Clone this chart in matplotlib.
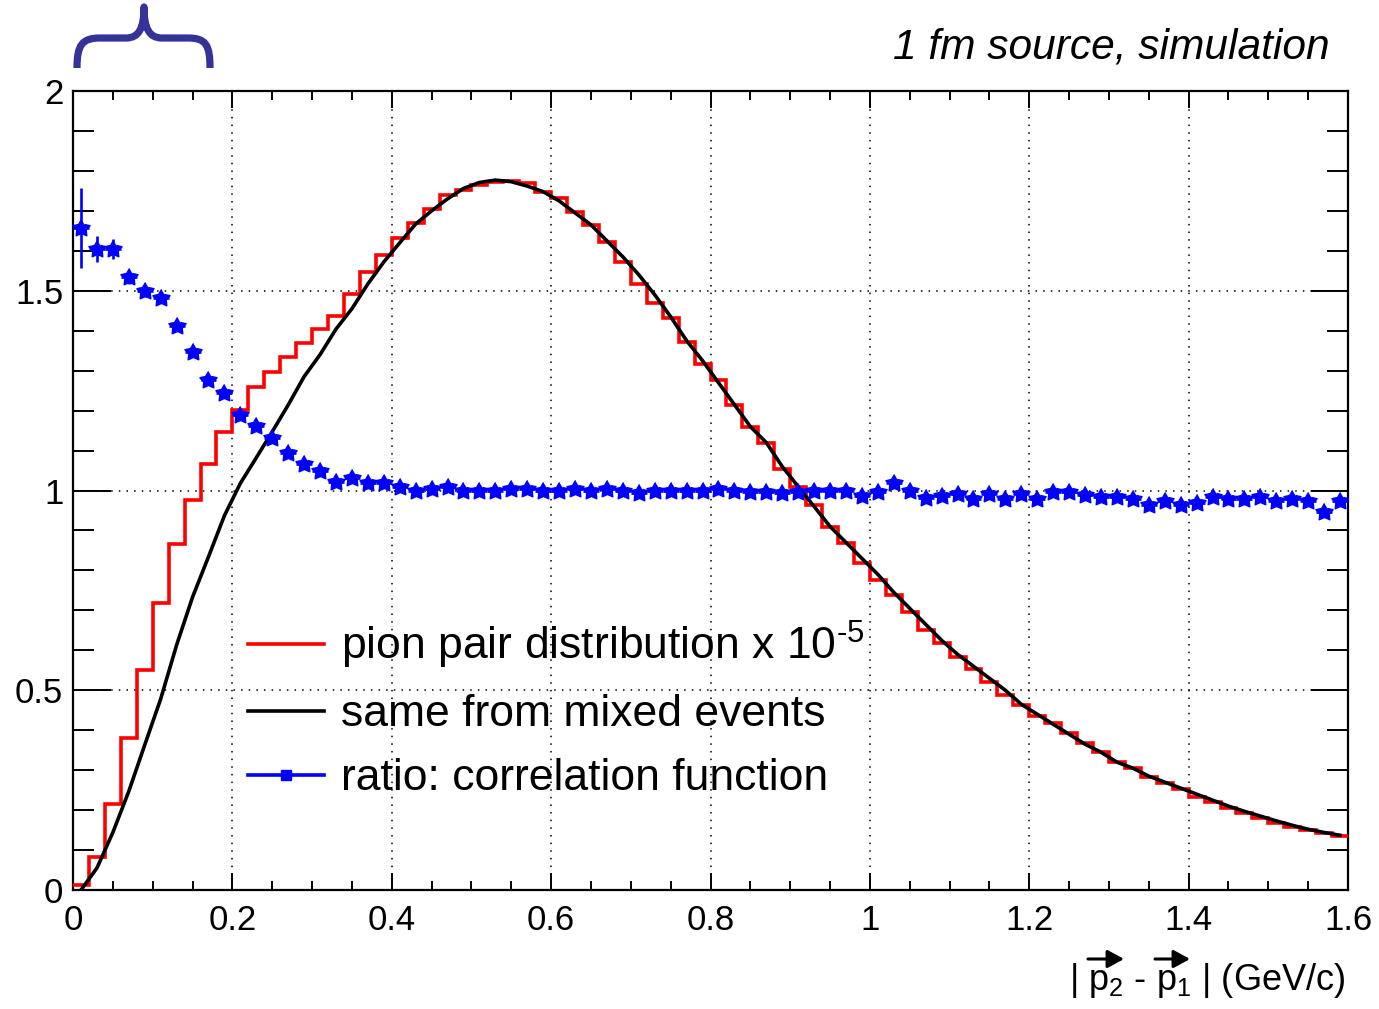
import numpy as np
import matplotlib
matplotlib.use("Agg")
import matplotlib.pyplot as plt
from matplotlib.lines import Line2D
from matplotlib.path import Path
from matplotlib.patches import PathPatch
from matplotlib.ticker import MultipleLocator

plt.rcParams['font.family'] = ['Liberation Sans', 'DejaVu Sans']
plt.rcParams['mathtext.fontset'] = 'custom'
plt.rcParams['mathtext.rm'] = 'Liberation Sans'
plt.rcParams['mathtext.it'] = 'Liberation Sans:italic'
plt.rcParams['mathtext.bf'] = 'Liberation Sans:bold'

# ---------------- data ----------------
bin_edges_range = (0.0, 1.6)
n_bins = 80

pair_dist = [0.012, 0.083, 0.215, 0.380, 0.550, 0.718, 0.866, 0.976, 1.066, 1.146,
             1.202, 1.259, 1.297, 1.334, 1.369, 1.405, 1.438, 1.493, 1.547, 1.589,
             1.632, 1.670, 1.705, 1.740, 1.752, 1.765, 1.772, 1.775, 1.770, 1.747,
             1.731, 1.697, 1.665, 1.622, 1.572, 1.517, 1.470, 1.432, 1.372, 1.317,
             1.277, 1.214, 1.159, 1.119, 1.053, 1.008, 0.964, 0.909, 0.869, 0.818,
             0.776, 0.738, 0.696, 0.651, 0.618, 0.583, 0.553, 0.521, 0.488, 0.463,
             0.436, 0.418, 0.393, 0.368, 0.346, 0.320, 0.305, 0.283, 0.268, 0.253,
             0.233, 0.220, 0.205, 0.193, 0.180, 0.168, 0.158, 0.150, 0.143, 0.135]

mixed_dist = [0.000, 0.055, 0.144, 0.247, 0.363, 0.478, 0.613, 0.733, 0.834, 0.937,
              1.018, 1.082, 1.147, 1.214, 1.285, 1.340, 1.404, 1.455, 1.517, 1.572,
              1.620, 1.667, 1.700, 1.730, 1.756, 1.771, 1.777, 1.773, 1.762, 1.748,
              1.725, 1.695, 1.665, 1.625, 1.585, 1.540, 1.490, 1.435, 1.375, 1.325,
              1.270, 1.215, 1.160, 1.120, 1.060, 1.010, 0.960, 0.910, 0.870, 0.830,
              0.790, 0.745, 0.705, 0.665, 0.625, 0.590, 0.560, 0.530, 0.500, 0.465,
              0.440, 0.415, 0.390, 0.365, 0.345, 0.320, 0.305, 0.285, 0.270, 0.255,
              0.240, 0.225, 0.210, 0.197, 0.185, 0.173, 0.162, 0.152, 0.144, 0.137]

ratio = [1.657, 1.604, 1.604, 1.534, 1.499, 1.482, 1.412, 1.347, 1.277, 1.244,
         1.189, 1.161, 1.131, 1.094, 1.066, 1.050, 1.022, 1.031, 1.020, 1.020,
         1.009, 0.999, 1.005, 1.009, 0.999, 0.999, 0.999, 1.004, 1.004, 0.999,
         0.999, 1.005, 0.999, 1.005, 0.999, 0.993, 0.999, 0.999, 0.999, 0.999,
         1.005, 0.999, 0.996, 0.996, 0.993, 0.996, 0.999, 0.999, 0.999, 0.985,
         0.995, 1.020, 0.999, 0.980, 0.985, 0.990, 0.978, 0.990, 0.978, 0.990,
         0.978, 0.996, 0.996, 0.988, 0.983, 0.983, 0.978, 0.964, 0.973, 0.964,
         0.969, 0.983, 0.978, 0.978, 0.983, 0.973, 0.978, 0.973, 0.946, 0.973]

ratio_err = [0.100, 0.032, 0.025, 0.018, 0.015, 0.013] + [0.010] * 74

x_ticks = [0, 0.2, 0.4, 0.6, 0.8, 1.0, 1.2, 1.4, 1.6]
x_ticklabels = ['0', '0.2', '0.4', '0.6', '0.8', '1', '1.2', '1.4', '1.6']
y_ticks = [0, 0.5, 1.0, 1.5, 2.0]
y_ticklabels = ['0', '0.5', '1', '1.5', '2']

legend_labels = ['pion pair distribution x 10$^{\u20105}$',
                 'same from mixed events',
                 'ratio: correlation function']
title_text = '1 fm source, simulation'

# ---------------- figure ----------------
W, H = 1379, 1009
fig = plt.figure(figsize=(W / 100, H / 100), dpi=100)
ax = fig.add_axes([73 / W, 1 - 890 / H, (1348 - 73) / W, (890 - 91) / H])

edges = np.linspace(bin_edges_range[0], bin_edges_range[1], n_bins + 1)
centers = 0.5 * (edges[:-1] + edges[1:])
half_w = 0.5 * (edges[1] - edges[0])

# fat five-pointed star marker (ROOT-like)
ang = np.pi / 2 + np.arange(10) * np.pi / 5
rad = np.where(np.arange(10) % 2 == 0, 1.0, 0.55)
star = list(zip(rad * np.cos(ang), rad * np.sin(ang)))

ax.stairs(pair_dist, edges, color='#ff0000', lw=2.6, baseline=None, zorder=3)
ax.plot(centers, mixed_dist, color='black', lw=2.6, zorder=4)
ax.errorbar(centers, ratio, yerr=ratio_err, xerr=half_w, fmt='none',
            ecolor='#0000ff', elinewidth=1.9, capsize=0, zorder=5)
ax.plot(centers, ratio, ls='none', marker=star, ms=13, color='#0000ff',
        mec='#0000ff', mew=1.0, zorder=6)

ax.set_xlim(0, 1.6)
ax.set_ylim(0, 2)
ax.set_xticks(x_ticks)
ax.set_xticklabels(x_ticklabels)
ax.set_yticks(y_ticks)
ax.set_yticklabels(y_ticklabels)
ax.xaxis.set_minor_locator(MultipleLocator(0.05))
ax.yaxis.set_minor_locator(MultipleLocator(0.1))

ax.tick_params(which='both', direction='in', top=True, right=True,
               labelsize=25, width=1.4, colors='black')
ax.tick_params(axis='x', which='major', length=12, pad=10)
ax.tick_params(axis='x', which='minor', length=6.5)
ax.tick_params(axis='y', which='major', length=27, pad=7)
ax.tick_params(axis='y', which='minor', length=15)
for s in ax.spines.values():
    s.set_linewidth(1.6)

ax.grid(True, which='major', color='black', linestyle=(0, (1, 4)), linewidth=1.1)
ax.set_axisbelow(True)

# legend
handles = [Line2D([], [], color='#ff0000', lw=2.6),
           Line2D([], [], color='black', lw=2.6),
           Line2D([], [], color='#0000ff', lw=2.6, marker='s', ms=7)]
leg = ax.legend(handles, legend_labels, loc='upper left',
                bbox_to_anchor=(248 / W, 1 - 619 / H), bbox_transform=fig.transFigure,
                frameon=False, fontsize=32, handlelength=1.7, handletextpad=0.4,
                labelspacing=0.52, borderpad=0, borderaxespad=0)

# title text
fig.text(1330 / W, 1 - 47 / H, title_text, ha='right', va='center',
         fontsize=30.6, style='italic')

# x-axis label (arrows drawn separately above the p's)
fig.text(1345 / W, 1 - 990 / H, r'| p$_{2}$ - p$_{1}$ | (GeV/c)',
         ha='right', va='baseline', fontsize=26)
for x0, x1 in [(1088, 1124), (1155, 1190)]:
    ax.annotate('', xy=(x1, H - 959), xytext=(x0, H - 959),
                xycoords='figure pixels', textcoords='figure pixels',
                arrowprops=dict(arrowstyle='-|>,head_length=0.55,head_width=0.3',
                                color='black', lw=2.2, shrinkA=0, shrinkB=0,
                                mutation_scale=18))

# brace annotation above the low-q region
def fp(px, py):
    return (px / W, 1 - py / H)

verts = [fp(77, 68), fp(77, 45), fp(82, 38), fp(100, 38), fp(126, 38),
         fp(139, 38), fp(144, 28), fp(144, 7),
         fp(144, 28), fp(149, 38), fp(162, 38), fp(188, 38),
         fp(206, 38), fp(210, 45), fp(210, 68)]
codes = [Path.MOVETO, Path.CURVE4, Path.CURVE4, Path.CURVE4, Path.LINETO,
         Path.CURVE4, Path.CURVE4, Path.CURVE4,
         Path.CURVE4, Path.CURVE4, Path.CURVE4, Path.LINETO,
         Path.CURVE4, Path.CURVE4, Path.CURVE4]
brace = PathPatch(Path(verts, codes), transform=fig.transFigure, fill=False,
                  edgecolor='#333399', lw=5.2, capstyle='butt', joinstyle='round')
fig.add_artist(brace)

fig.savefig('out.png', dpi=100)
